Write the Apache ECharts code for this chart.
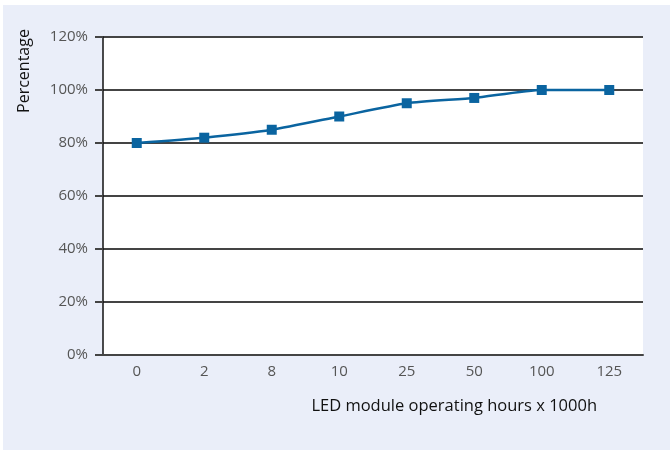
<!DOCTYPE html>
<html>
<head>
<meta charset="utf-8">
<script src="https://cdn.jsdelivr.net/npm/echarts@6/dist/echarts.min.js"></script>
<style>
  html, body { margin: 0; padding: 0; background: #fff; }
  #chart { width: 670px; height: 450px; }
</style>
</head>
<body>
<div id="chart"></div>
<script>
// hours x 1000h
const categories = ['0', '2', '8', '10', '25', '50', '100', '125']
const percentValues = [80, 82, 85, 90, 95, 97, 100, 100]
const yTicks = [0, 20, 40, 60, 80, 100, 120]

const font = '"Open Sans", Lato, sans-serif'

const chart = echarts.init(document.getElementById('chart'))
chart.setOption({
  animation: false,
  graphic: [
    {
      type: 'rect',
      z: -10,
      shape: { x: 3, y: 5, width: 667, height: 445 },
      style: { fill: '#eaeef9' }
    },
    {
      type: 'text',
      x: 16,
      y: 71,
      rotation: Math.PI / 2,
      style: {
        text: 'Percentage',
        font: '16px ' + font,
        fill: '#111',
        textAlign: 'center',
        textVerticalAlign: 'top'
      }
    }
  ],
  grid: {
    left: 103,
    right: 27,
    top: 37,
    bottom: 95,
    show: true,
    backgroundColor: '#fff',
    borderWidth: 0
  },
  xAxis: {
    type: 'category',
    data: categories,
    boundaryGap: true,
    name: 'LED module operating hours x 1000h',
    nameLocation: 'end',
    nameGap: 0,
    nameTextStyle: {
      fontFamily: font,
      fontSize: 16.5,
      color: '#111',
      align: 'right',
      verticalAlign: 'top',
      padding: [43, 46, 0, 0]
    },
    axisLine: { show: true, lineStyle: { color: '#444', width: 2 } },
    axisTick: { show: false },
    axisLabel: { fontFamily: font, fontSize: 15, color: '#555', margin: 9 }
  },
  yAxis: {
    type: 'value',
    min: 0,
    max: 120,
    interval: 20,
    axisLine: { show: true, onZero: false, lineStyle: { color: '#111', width: 1.5 } },
    axisTick: { show: true, length: 8, lineStyle: { color: '#444', width: 2 } },
    splitLine: { show: true, lineStyle: { color: '#444', width: 2 } },
    axisLabel: {
      fontFamily: font,
      fontSize: 15,
      color: '#555',
      margin: 15,
      formatter: v => (yTicks.includes(v) ? v + '%' : '')
    }
  },
  series: [{
    type: 'line',
    data: percentValues,
    smooth: 0.2,
    symbol: 'rect',
    symbolSize: 10,
    lineStyle: { color: '#0a64a0', width: 2.5 },
    itemStyle: { color: '#0a64a0' },
    z: 5
  }]
})
</script>
</body>
</html>
